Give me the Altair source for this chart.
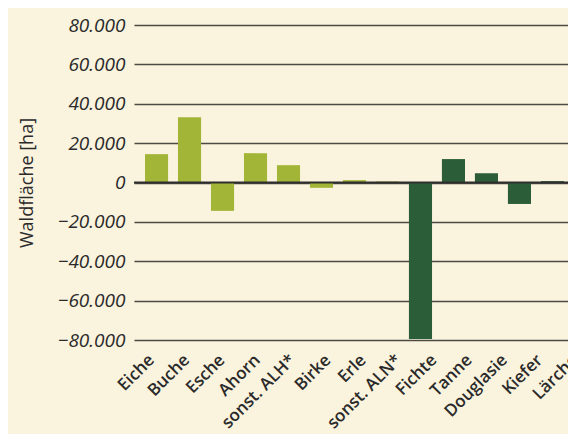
import altair as alt
import pandas as pd

categories = ["Eiche", "Buche", "Esche", "Ahorn", "sonst. ALH*", "Birke", "Erle",
              "sonst. ALN*", "Fichte", "Tanne", "Douglasie", "Kiefer", "Lärche"]
values = [14400, 33200, -14400, 14900, 8800, -2700, 1200, 500, -79500, 11900, 4700, -10900, 700]
groups = ["Laubholz"] * 8 + ["Nadelholz"] * 5
y_ticks = [-80000, -60000, -40000, -20000, 0, 20000, 40000, 60000, 80000]

df = pd.DataFrame({"Baumart": categories, "Wert": values, "Gruppe": groups})

FONT = "Open Sans"
BG = "#faf3dd"
TXT = "#2a2a2a"

y_axis = alt.Axis(title="Waldfläche [ha]", values=y_ticks, ticks=False, domain=False,
                  labelExpr="replace(format(datum.value, ','), ',', '.')",
                  labelFont=FONT, labelFontStyle="italic", labelFontSize=19,
                  labelColor=TXT, labelPadding=9, labelOverlap=False,
                  gridColor="#4d4a45", gridWidth=1.3,
                  titleFont=FONT, titleFontSize=18, titleFontWeight=500,
                  titleColor=TXT, titleX=-98, titleY=157.5)
y_scale = alt.Scale(domain=[-80000, 80000], nice=False)

bars = alt.Chart(df).mark_bar().encode(
    x=alt.X("Baumart:N", sort=categories,
            scale=alt.Scale(paddingInner=0.3, paddingOuter=0.227, align=0.733),
            axis=None),
    y=alt.Y("Wert:Q", scale=y_scale, axis=y_axis),
    color=alt.Color("Gruppe:N", scale=alt.Scale(domain=["Laubholz", "Nadelholz"],
                                               range=["#a3b536", "#2b5e38"]), legend=None),
)

zero = alt.Chart(pd.DataFrame({"y": [0]})).mark_rule(color="#2e2e2e", strokeWidth=2).encode(
    y=alt.Y("y:Q", scale=y_scale, axis=y_axis))

# category labels, spaced a little wider than the bars as in the original
labels = alt.Chart(df).mark_text(angle=315, align="right", baseline="top", font=FONT,
                                 fontSize=17, fontWeight=600, color=TXT).encode(
    x=alt.X("Baumart:N", sort=categories,
            scale=alt.Scale(type="point", range=[12, 435.6], padding=0), axis=None),
    y=alt.value(327),
    text="Baumart:N",
)

chart = alt.layer(bars, zero, labels).resolve_scale(x="independent").properties(
    width=434, height=315, background=BG,
    autosize=alt.AutoSizeParams(type="none"),
    padding={"left": 126, "top": 17, "right": 0, "bottom": 96},
).configure_view(stroke=None)

chart.save("out.html", embed_options={"renderer": "svg", "actions": False})
